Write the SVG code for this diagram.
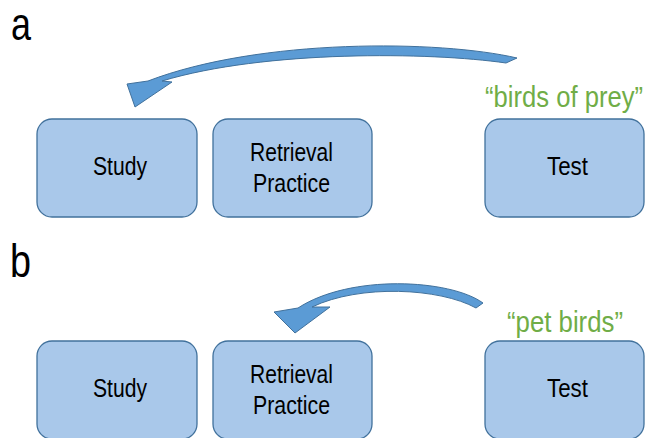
<svg xmlns="http://www.w3.org/2000/svg" width="645" height="438" viewBox="0 0 645 438">
<style>
.box{fill:#a9c8ea;stroke:#41719c;stroke-width:1.3}
.t{font-family:"Liberation Sans",Arial,sans-serif;font-size:25px;fill:#000;text-anchor:middle}
.g{font-family:"Liberation Sans",Arial,sans-serif;font-size:29px;fill:#70ad47;text-anchor:middle}
.lab{font-family:"Liberation Sans",Arial,sans-serif;font-size:47px;fill:#000}
.arr{fill:#5b9bd5;stroke:#41719c;stroke-width:1}
</style>
<rect width="645" height="438" fill="#fff"/>
<text class="lab" x="11" y="40" textLength="20" lengthAdjust="spacingAndGlyphs">a</text>
<text class="lab" x="10" y="277" textLength="21" lengthAdjust="spacingAndGlyphs">b</text>
<g id="study-a"><rect class="box" x="37" y="119" width="160" height="98" rx="15"/><text class="t" x="120" y="175" textLength="54" lengthAdjust="spacingAndGlyphs">Study</text></g>
<g id="retrieval-a"><rect class="box" x="213" y="119" width="159" height="98" rx="15"/><text class="t" x="291.5" y="161" textLength="83" lengthAdjust="spacingAndGlyphs">Retrieval</text><text class="t" x="291.5" y="192" textLength="77" lengthAdjust="spacingAndGlyphs">Practice</text></g>
<g id="test-a"><rect class="box" x="485" y="119" width="159" height="98" rx="15"/><text class="t" x="567.5" y="175" textLength="41" lengthAdjust="spacingAndGlyphs">Test</text></g>
<g id="study-b"><rect class="box" x="37" y="341" width="160" height="98" rx="15"/><text class="t" x="120" y="397" textLength="54" lengthAdjust="spacingAndGlyphs">Study</text></g>
<g id="retrieval-b"><rect class="box" x="213" y="341" width="159" height="98" rx="15"/><text class="t" x="291.5" y="383" textLength="83" lengthAdjust="spacingAndGlyphs">Retrieval</text><text class="t" x="291.5" y="414" textLength="77" lengthAdjust="spacingAndGlyphs">Practice</text></g>
<g id="test-b"><rect class="box" x="485" y="341" width="159" height="98" rx="15"/><text class="t" x="567.5" y="397" textLength="41" lengthAdjust="spacingAndGlyphs">Test</text></g>
<text class="g" x="564" y="107" textLength="158" lengthAdjust="spacingAndGlyphs">“birds of prey”</text>
<text class="g" x="565" y="332" textLength="116" lengthAdjust="spacingAndGlyphs">“pet birds”</text>
<g id="connectors">
<path class="arr" d="M517,58 C440,40 260,38 148,81 L127,84 L135,107 L172,82 L162,81 C265,50 430,52 506,63 Z"/>
<path class="arr" d="M483,303 C450,279 350,274 298,308 L274,312 L295,333 L330,307 L312,307 C360,284 440,288 476,308 Z"/>
</g>
</svg>
